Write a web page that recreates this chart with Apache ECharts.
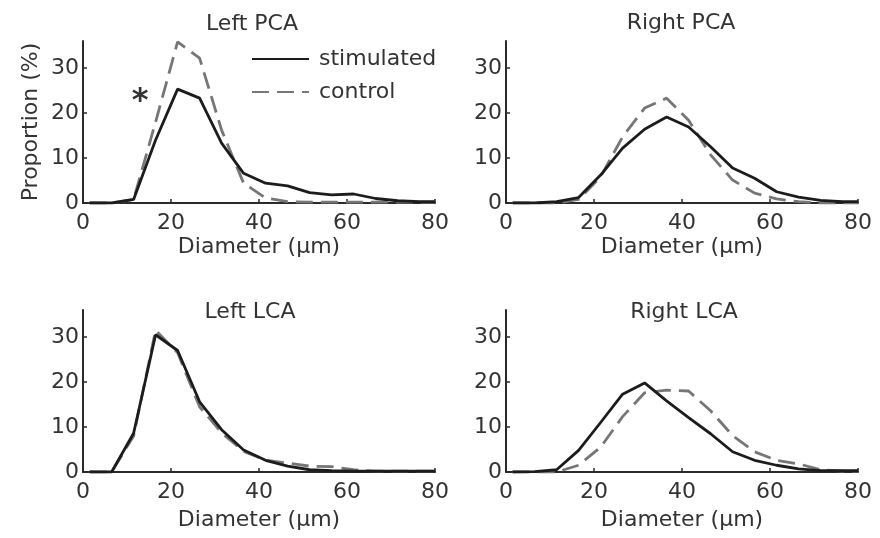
<!DOCTYPE html>
<html>
<head>
<meta charset="utf-8">
<script src="https://cdn.jsdelivr.net/npm/echarts@6/dist/echarts.min.js"></script>
<style>
  html, body { margin: 0; padding: 0; background: #fff; }
  #chart { width: 880px; height: 538px; }
</style>
</head>
<body>
<div id="chart"></div>
<script>
  // 直径分箱 (µm)
  const diameters = [1.5, 6.5, 11.5, 16.5, 21.5, 26.5, 31.5, 36.5, 41.5, 46.5, 51.5, 56.5, 61.5, 66.5, 71.5, 76.5, 80]

  const leftPcaStim = [0, 0, 0.8, 14, 25.3, 23.3, 13.3, 6.6, 4.4, 3.8, 2.3, 1.8, 2, 1, 0.5, 0.3, 0.3]
  const leftPcaCtrl = [0, 0, 0.8, 18, 35.8, 32.2, 16.2, 4.4, 1.1, 0.3, 0.2, 0.2, 0.2, 0.2, 0.2, 0.2, 0.2]
  const rightPcaStim = [0, 0, 0.3, 1.2, 6.2, 12.2, 16.4, 19.1, 16.9, 12.5, 7.8, 5.5, 2.5, 1.3, 0.6, 0.3, 0.3]
  const rightPcaCtrl = [0, 0, 0, 0.8, 5.8, 14.7, 21.1, 23.3, 18.4, 10.7, 5.1, 2.2, 0.9, 0.3, 0, 0, 0]
  const leftLcaStim = [0, 0, 8.6, 30.5, 27, 15.6, 9.4, 4.9, 2.6, 1.3, 0.5, 0.3, 0.2, 0.2, 0.2, 0.2, 0.2]
  const leftLcaCtrl = [0, 0, 8.0, 31.5, 26.5, 14.5, 8.7, 4.6, 2.6, 2.0, 1.3, 1.2, 0.5, 0.2, 0.2, 0.2, 0.2]
  const rightLcaStim = [0, 0.1, 0.5, 4.8, 11, 17.3, 19.8, 15.8, 12.1, 8.5, 4.5, 2.6, 1.5, 0.7, 0.3, 0.3, 0.3]
  const rightLcaCtrl = [0, 0, 0, 1.5, 5.5, 12.3, 17.6, 18.2, 18.0, 13.6, 8.1, 4.5, 2.6, 1.8, 0.5, 0.2, 0.2]

  const panelTitles = ['Left PCA', 'Right PCA', 'Left LCA', 'Right LCA']
  const xTicks = [0, 20, 40, 60, 80]
  const yTicks = [0, 10, 20, 30]
  const asteriskCoord = [13, 24.4]

  const stimSets = [leftPcaStim, rightPcaStim, leftLcaStim, rightLcaStim]
  const ctrlSets = [leftPcaCtrl, rightPcaCtrl, leftLcaCtrl, rightLcaCtrl]

  const font = '"DejaVu Sans", sans-serif'
  const textColor = '#333'
  const axisColor = '#2a2a2a'

  // 四个子图的位置
  const grids = [
    { left: 83, top: 41, width: 352, height: 162 },
    { left: 506, top: 41, width: 352, height: 162 },
    { left: 83, top: 310, width: 352, height: 162 },
    { left: 506, top: 310, width: 352, height: 162 }
  ]
  const titlePos = [[252, 24], [681, 23], [250, 312], [684, 312]]
  const xNameGap = [33, 33, 37, 37]

  function pairs(vals) {
    return diameters.map((d, i) => [d, vals[i]])
  }

  let xAxes = []
  let yAxes = []
  let series = []
  let graphics = []

  for (let i = 0; i < 4; i++) {
    xAxes.push({
      gridIndex: i,
      type: 'value',
      min: xTicks[0],
      max: xTicks[xTicks.length - 1],
      interval: 20,
      name: 'Diameter (µm)',
      nameLocation: 'middle',
      nameGap: xNameGap[i],
      nameTextStyle: { fontFamily: font, fontSize: 22, color: textColor },
      splitLine: { show: false },
      axisLine: { lineStyle: { color: axisColor, width: 2 } },
      axisTick: { inside: true, length: 4, lineStyle: { color: axisColor, width: 1.5 } },
      axisLabel: { fontFamily: font, fontSize: 22, color: textColor, margin: 9 }
    })
    yAxes.push({
      gridIndex: i,
      type: 'value',
      min: 0,
      max: 36,
      name: i === 0 ? 'Proportion (%)' : '',
      nameLocation: 'middle',
      nameRotate: 90,
      nameGap: 41,
      nameTextStyle: { fontFamily: font, fontSize: 22, color: textColor },
      splitLine: { show: false },
      axisLine: { show: true, lineStyle: { color: axisColor, width: 2 } },
      axisTick: { show: true, inside: true, length: 4, customValues: yTicks, lineStyle: { color: axisColor, width: 1.5 } },
      axisLabel: { fontFamily: font, fontSize: 22, color: textColor, margin: 4, customValues: yTicks }
    })
    series.push({
      name: 'stimulated',
      type: 'line',
      xAxisIndex: i,
      yAxisIndex: i,
      symbol: 'none',
      z: 3,
      lineStyle: { color: '#1c1c1c', width: 2.8 },
      itemStyle: { color: '#1c1c1c', opacity: 0 },
      data: pairs(stimSets[i])
    })
    series.push({
      name: 'control',
      type: 'line',
      xAxisIndex: i,
      yAxisIndex: i,
      symbol: 'none',
      z: 2,
      lineStyle: { color: '#767676', width: 2.8, type: [17, 8] },
      itemStyle: { color: '#767676', opacity: 0 },
      data: pairs(ctrlSets[i])
    })
    graphics.push({
      type: 'text',
      x: titlePos[i][0],
      y: titlePos[i][1],
      style: {
        text: panelTitles[i],
        font: '22px ' + font,
        fill: textColor,
        align: 'center',
        verticalAlign: 'middle'
      }
    })
  }

  // 星号标记 (显著性)
  series[0].markPoint = {
    symbol: 'circle',
    symbolSize: 0,
    silent: true,
    label: {
      show: true,
      position: 'inside',
      formatter: '*',
      fontFamily: font,
      fontSize: 32,
      fontWeight: 'bold',
      color: textColor,
      offset: [0, 8]
    },
    data: [{ coord: asteriskCoord }]
  }

  let chart = echarts.init(document.getElementById('chart'))
  let option = {
    animation: false,
    backgroundColor: '#fff',
    grid: grids,
    xAxis: xAxes,
    yAxis: yAxes,
    legend: {
      data: ['stimulated', 'control'],
      orient: 'vertical',
      left: 251,
      top: 48,
      padding: 0,
      itemWidth: 57,
      itemHeight: 14,
      itemGap: 11,
      selectedMode: false,
      itemStyle: { opacity: 0 },
      textStyle: { fontFamily: font, fontSize: 22, color: textColor, lineHeight: 22, padding: [0, 0, 0, 5] }
    },
    graphic: graphics,
    series: series
  }
  chart.setOption(option)
</script>
</body>
</html>
